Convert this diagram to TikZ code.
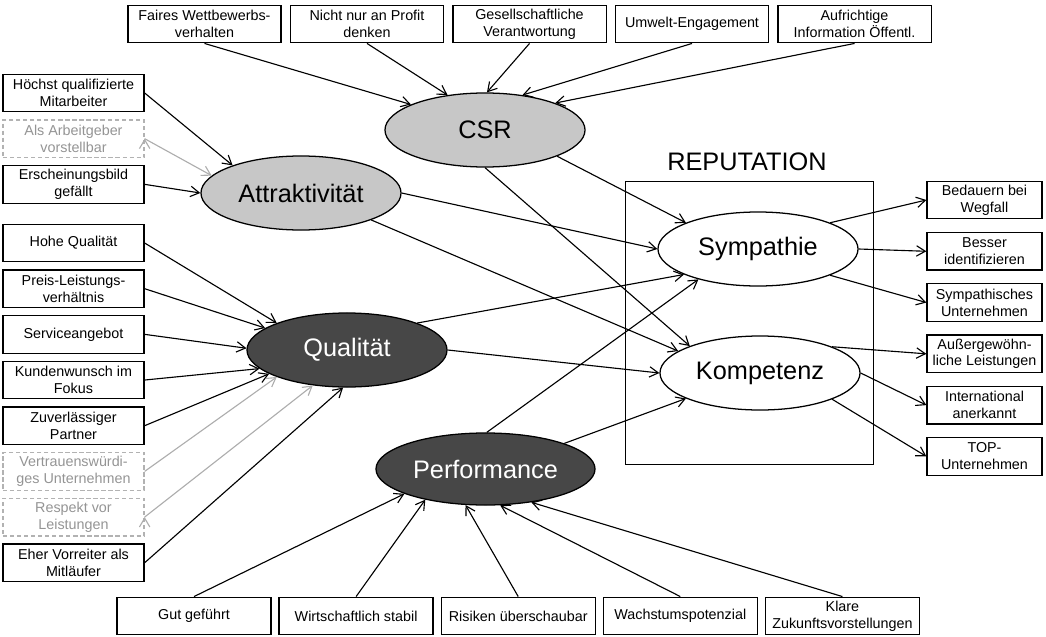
\documentclass[tikz,border=0pt]{standalone}
\usepackage{fontspec}
\setmainfont{Liberation Sans}
\usepackage{tikz}
\usetikzlibrary{positioning,arrows.meta,shapes.geometric}

\tikzset{
  box/.style={draw,line width=0.9pt,align=center,inner sep=1pt,minimum height=0.94cm,font=\fontsize{10.2}{12}\selectfont},
  topbox/.style={box,minimum width=3.83cm},
  leftbox/.style={box,minimum width=3.525cm},
  rightbox/.style={box,minimum width=2.875cm},
  weakbox/.style={draw=black!30,densely dashed,text=black!42},
  factor/.style={ellipse,draw,line width=0.9pt,inner sep=0pt,minimum width=5cm,minimum height=1.85cm,font=\fontsize{18}{20}\selectfont},
  light/.style={factor,fill=black!22},
  dark/.style={factor,fill=black!72,text=white},
  plain/.style={factor,fill=white},
  arr/.style={-{Straight Barb[length=2.2mm,width=2.6mm]},line width=0.8pt},
  weakarr/.style={arr,draw=black!32},
}

\begin{document}
\begin{tikzpicture}[x=0.025cm,y=-0.025cm,node distance=1.7mm and 2mm]
\useasboundingbox (0,0) rectangle (1046,637);
% Reputation
\node[draw,line width=0.7pt,minimum width=6.175cm,minimum height=7.05cm] (rep) at (749.5,323) {};
\node[font=\fontsize{18}{20}\selectfont] (reptitle) at (747,162) {REPUTATION};
\node[plain] (sym) at (758,249) {Sympathie};
\node[plain] (komp) at (760,373) {Kompetenz};
% Treiber
\node[light] (csr) at (485,130) {CSR};
\node[light] (att) at (301,193) {Attraktivität};
\node[dark] (qual) at (347,350) {Qualität};
\node[dark,minimum width=5.475cm,minimum height=1.8cm] (perf) at (485.5,469) {Performance};
% oben
\node[topbox] (t1) at (204.5,24) {Faires Wettbewerbs-\\verhalten};
\node[topbox,right=of t1] (t2) {Nicht nur an Profit\\denken};
\node[topbox,right=of t2] (t3) {Gesellschaftliche\\Verantwortung};
\node[topbox,right=of t3] (t4) {Umwelt-Engagement};
\node[topbox,right=of t4] (t5) {Aufrichtige\\Information Öffentl.};
% links
\node[leftbox] (l1) at (73.5,93) {Höchst qualifizierte\\Mitarbeiter};
\node[leftbox,weakbox,below=of l1] (l2) {Als Arbeitgeber\\vorstellbar};
\node[leftbox,below=of l2] (l3) {Erscheinungsbild\\gefällt};
\node[leftbox] (q1) at (73.5,243) {Hohe Qualität};
\node[leftbox,below=of q1] (q2) {Preis-Leistungs-\\verhältnis};
\node[leftbox,below=of q2] (q3) {Serviceangebot};
\node[leftbox,below=of q3] (q4) {Kundenwunsch im\\Fokus};
\node[leftbox,below=of q4] (q5) {Zuverlässiger\\Partner};
\node[leftbox,weakbox,below=of q5] (q6) {Vertrauenswürdi-\\ges Unternehmen};
\node[leftbox,weakbox,below=of q6] (q7) {Respekt vor\\Leistungen};
\node[leftbox,below=of q7] (q8) {Eher Vorreiter als\\Mitläufer};
% unten
\node[topbox,minimum width=3.85cm] (b1) at (194,616) {Gut geführt};
\node[topbox,minimum width=3.85cm,right=1.7mm of b1] (b2) {Wirtschaftlich stabil};
\node[topbox,minimum width=3.85cm,right=1.7mm of b2] (b3) {Risiken überschaubar};
\node[topbox,minimum width=3.85cm,right=1.7mm of b3] (b4) {Wachstumspotenzial};
\node[topbox,minimum width=3.85cm,right=1.7mm of b4] (b5) {Klare\\Zukunftsvorstellungen};
% rechts
\node[rightbox] (r1) at (984.5,200) {Bedauern bei\\Wegfall};
\node[rightbox,below=3.1mm of r1] (r2) {Besser\\identifizieren};
\node[rightbox,below=3.1mm of r2] (r3) {Sympathisches\\Unternehmen};
\node[rightbox,below=3.1mm of r3] (r4) {Außergewöhn-\\liche Leistungen};
\node[rightbox,below=3.1mm of r4] (r5) {International\\anerkannt};
\node[rightbox,below=3.1mm of r5] (r6) {TOP-\\Unternehmen};

\path[arr] (t1.south) edge (csr.161) (t2.south) edge (csr.137) (t3.south) edge (csr.87)
  (t4.south) edge (csr.43) (t5.south) edge (csr.21);
\path[arr] (l1.east) edge (att.158) (l3.east) edge (att.180);
\path[weakarr] (l2.east) edge (att.169);
\path[arr] (q1.east) edge (qual.159) (q2.east) edge (qual.165) (q3.east) edge (qual.179)
  (q4.east) edge (qual.192) (q5.east) edge (qual.197) (q8.east) edge (qual.264);
\path[weakarr] (q6.east) edge (qual.201) (q7.east) edge (qual.226);
\path[arr] (b1.north) edge (perf.197) (b2.north) edge (perf.207) (b3.north) edge (perf.241)
  (b4.north) edge (perf.292) (b5.north) edge (perf.324);
\path[arr] (csr.340) edge (sym.160) (csr.270) edge (komp.159);
\path[arr] (att.0) edge (sym.180) (att.339) edge (komp.165);
\path[arr] (qual.21) edge (sym.199) (qual.0) edge (komp.180);
\path[arr] (perf.88) edge (sym.207) (perf.18) edge (komp.199);
\path[arr] (sym.20) edge (r1.west) (sym.0) edge (r2.west) (sym.340) edge (r3.west);
\path[arr] (komp.20) edge (r4.west) (komp.0) edge (r5.west) (komp.340) edge (r6.west);
\end{tikzpicture}
\end{document}
